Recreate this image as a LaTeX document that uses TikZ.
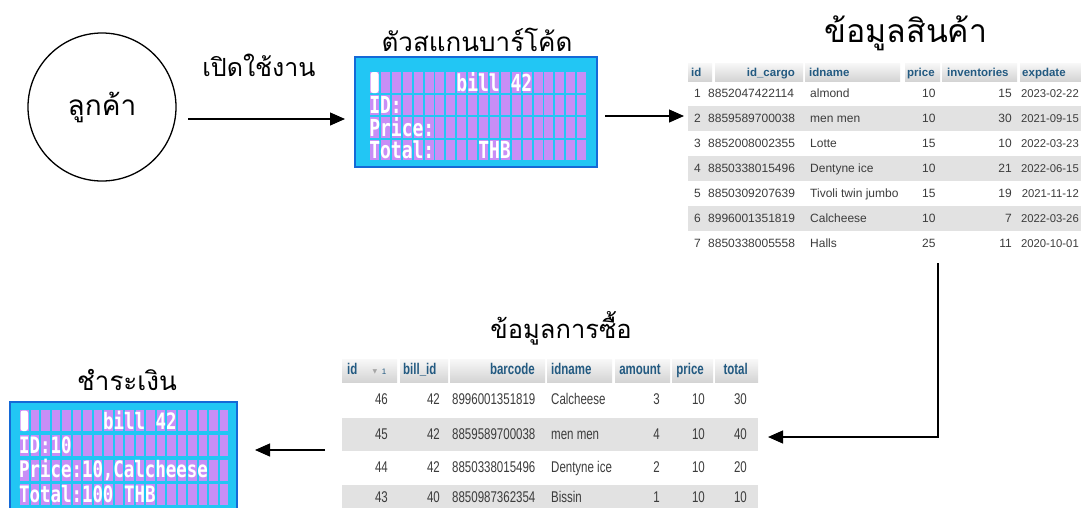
\documentclass[tikz,border=0pt]{standalone}
\usepackage{fontspec}
\setmainfont{Liberation Sans}
\newfontfamily\thai[Script=Thai]{Loma}
\newfontfamily\lcdfont{DejaVu Sans Mono}
\newfontfamily\dejavu{DejaVu Sans}
\usetikzlibrary{arrows.meta}
\definecolor{lcdbg}{RGB}{34,198,244}
\definecolor{lcdedge}{RGB}{20,105,215}
\definecolor{lcdcell}{RGB}{200,142,246}
\definecolor{hdrtxt}{RGB}{35,90,129}
\definecolor{rowgray}{RGB}{226,226,226}
\definecolor{hdrtop}{RGB}{248,248,248}
\definecolor{hdrbot}{RGB}{212,212,212}
\definecolor{bodytxt}{RGB}{60,60,60}
\newcommand\talltxt[1]{\scalebox{1}[1.35]{#1}}
\newcommand\lcdtxt[1]{\scalebox{1}[1.3]{#1}}
\begin{document}
\begin{tikzpicture}[x=1pt,y=-1pt,
  title/.style={font=\thai\fontsize{26}{30}\selectfont, inner sep=0},
  flow/.style={line width=1.2pt, -{Triangle[length=15pt,width=13pt]}},
  box/.style={inner sep=0, outer sep=0},
  lcd/.style={box, fill=lcdbg, draw=lcdedge, line width=1.5pt},
  lcdt/.style={font=\lcdfont\bfseries\fontsize{18}{20}\selectfont, text=white, inner sep=0, anchor=west},
  lcdt2/.style={font=\lcdfont\bfseries\fontsize{17.4}{20}\selectfont, text=white, inner sep=0, anchor=west},
  tb/.style={font=\fontsize{12}{14}\selectfont, text=bodytxt, inner sep=0},
  th/.style={font=\bfseries\fontsize{11.5}{14}\selectfont, text=hdrtxt, inner sep=0},
  tb2/.style={font=\fontsize{11.5}{14}\selectfont, text=bodytxt, inner sep=0},
  th2/.style={font=\bfseries\fontsize{11.5}{14}\selectfont, text=hdrtxt, inner sep=0},
  hdr/.style={top color=hdrtop, bottom color=hdrbot}
]
\clip (0,0) rectangle (1081,507);
\fill[white] (0,0) rectangle (1081,507);

% ---------- customer ----------
\node[circle, draw, line width=1.3pt, minimum size=148pt, inner sep=0,
      font=\thai\fontsize{28}{32}\selectfont] (cust) at (102,107) {ลูกค้า};
\node[font=\thai\fontsize{25}{30}\selectfont, inner sep=0] (open) at (259,65) {เปิดใช้งาน};

% ---------- scanner LCD ----------
\node[title] (scant) at (477,40) {ตัวสแกนบาร์โค้ด};
\node[lcd, minimum width=242pt, minimum height=110pt] (scan) at (476,112) {};
\foreach \ty in {72,94.5,117,139.5}
  \foreach \k in {0,...,19}
    \fill[lcdcell] ({370+10.9*\k},\ty) rectangle ++(9,20.5);
\fill[white, rounded corners=2.5pt] (370.5,72) rectangle (378.5,93);
\node[lcdt] (s1) at (456.25,82.25) {\lcdtxt{bill 42}};
\node[lcdt] (s2) at (369.05,104.75) {\lcdtxt{ID:}};
\node[lcdt] (s3) at (369.05,127.25) {\lcdtxt{Price:}};
\node[lcdt] (s4) at (369.05,149.75) {\lcdtxt{Total:}};
\node[lcdt] (s5) at (478.05,149.75) {\lcdtxt{THB}};

% ---------- product table ----------
\node[font=\thai\fontsize{32}{36}\selectfont, inner sep=0] (prodt) at (906,33) {ข้อมูลสินค้า};
\node[box, minimum width=393pt, minimum height=193pt] (prod) at (884.5,159.5) {};
\foreach \xa/\xb in {688/712,715/803,805/900,905/940,942/1017,1020/1081}
  \shade[hdr] (\xa,63) rectangle (\xb,81);
\foreach \r in {2,4,6}
  \fill[rowgray] (688,{93+25*(\r-1)-12.5}) rectangle (1081,{93+25*(\r-1)+12.5});
\node[th, anchor=mid west] (ph1) at (691,74) {id};
\node[th, anchor=mid east] (ph2) at (795,74) {id\_cargo};
\node[th, anchor=mid west] (ph3) at (809,74) {idname};
\node[th, anchor=mid west] (ph4) at (907,74) {price};
\node[th, anchor=mid west] (ph5) at (947,74) {inventories};
\node[th, anchor=mid west] (ph6) at (1022,74) {expdate};
\foreach \i/\b/\c/\d/\e/\f in {1/8852047422114/almond/10/15/2023-02-22,
  2/8859589700038/men men/10/30/2021-09-15,
  3/8852008002355/Lotte/15/10/2022-03-23,
  4/8850338015496/Dentyne ice/10/21/2022-06-15,
  5/8850309207639/Tivoli twin jumbo/15/19/2021-11-12,
  6/8996001351819/Calcheese/10/7/2022-03-26,
  7/8850338005558/Halls/25/11/2020-10-01}{
  \pgfmathsetmacro\yy{94.5+25*(\i-1)}
  \node[tb, anchor=mid east] (p\i-a) at (701,\yy) {\i};
  \node[tb, anchor=mid west] (p\i-b) at (708,\yy) {\b};
  \node[tb, anchor=mid west] (p\i-c) at (810,\yy) {\c};
  \node[tb, anchor=mid west] (p\i-d) at (922,\yy) {\d};
  \node[tb, anchor=mid east] (p\i-e) at (1012,\yy) {\e};
  \node[tb, anchor=mid east, font=\fontsize{11.3}{14}\selectfont] (p\i-f) at (1079,\yy) {\f};
}

% ---------- purchase table ----------
\node[font=\thai\fontsize{25.5}{30}\selectfont, inner sep=0] (buyt) at (561,328) {ข้อมูลการซื้อ};
\node[box, minimum width=416pt, minimum height=159pt] (buy) at (550,438.5) {};
\foreach \xa/\xb in {342/397,400/448,450/545,547/612,615/670,672/713,715/758}
  \shade[hdr] (\xa,359) rectangle (\xb,382);
\fill[rowgray] (342,418) rectangle (758,451);
\fill[rowgray] (342,485) rectangle (758,518);
\node[th2, anchor=mid west] (bh1) at (347,372) {\talltxt{id}};
\node[font=\dejavu\fontsize{6}{7}\selectfont, text=gray!70, inner sep=0] (bh1s) at (375,372) {▼};
\node[font=\fontsize{8}{9}\selectfont, text=hdrtxt, inner sep=0] (bh1n) at (384,372) {1};
\node[th2, anchor=mid west] (bh2) at (403,372) {\talltxt{bill\_id}};
\node[th2, anchor=mid east] (bh3) at (535,372) {\talltxt{barcode}};
\node[th2, anchor=mid west] (bh4) at (551,372) {\talltxt{idname}};
\node[th2, anchor=mid east] (bh5) at (661,372) {\talltxt{amount}};
\node[th2, anchor=mid east] (bh6) at (704,372) {\talltxt{price}};
\node[th2, anchor=mid east] (bh7) at (748,372) {\talltxt{total}};
\foreach \yy/\a/\b/\c/\d/\e/\f/\g in {402/46/42/8996001351819/Calcheese/3/10/30,
  437/45/42/8859589700038/men men/4/10/40,
  470/44/42/8850338015496/Dentyne ice/2/10/20,
  500/43/40/8850987362354/Bissin/1/10/10}{
  \node[tb2, anchor=mid east] (b\a-a) at (388,\yy) {\talltxt{\a}};
  \node[tb2, anchor=mid east] (b\a-b) at (440,\yy) {\talltxt{\b}};
  \node[tb2, anchor=mid west] (b\a-c) at (452,\yy) {\talltxt{\c}};
  \node[tb2, anchor=mid west] (b\a-d) at (551,\yy) {\talltxt{\d}};
  \node[tb2, anchor=mid east] (b\a-e) at (660,\yy) {\talltxt{\e}};
  \node[tb2, anchor=mid east] (b\a-f) at (705,\yy) {\talltxt{\f}};
  \node[tb2, anchor=mid east] (b\a-g) at (747,\yy) {\talltxt{\g}};
}

% ---------- payment LCD ----------
\node[title] (payt) at (127,380) {ชำระเงิน};
\node[lcd, minimum width=227pt, minimum height=113pt] (pay) at (123.5,458.5) {};
\foreach \ty in {410,435,459.5,483.5}
  \foreach \k in {0,...,19}
    \fill[lcdcell] ({20+10.5*\k},\ty) rectangle ++(8.5,21);
\fill[white, rounded corners=2.5pt] (20.5,410.5) rectangle (28,431);
\node[lcdt2] (q1) at (103,420.5) {\lcdtxt{bill 42}};
\node[lcdt2] (q2) at (19,445.5) {\lcdtxt{ID:10}};
\node[lcdt2] (q3) at (19,470) {\lcdtxt{Price:10,Calcheese}};
\node[lcdt2] (q4) at (19,494) {\lcdtxt{Total:100}};
\node[lcdt2] (q5) at (124,494) {\lcdtxt{THB}};

% ---------- connectors ----------
\coordinate (a1) at (188,119);
\draw[flow, shorten >=10pt] (a1) -- (a1 -| scan.west);
\coordinate (a2) at (605,116);
\draw[flow, shorten >=4pt] (a2) -- (a2 -| prod.west);
\coordinate (v1) at (938,263);
\coordinate (elbow) at (938,437);
\draw[flow, shorten >=10pt] (v1) -- (elbow) -- (elbow -| buy.east);
\coordinate (a4) at (325,450);
\draw[flow, shorten >=18pt] (a4) -- (a4 -| pay.east);
\end{tikzpicture}
\end{document}
